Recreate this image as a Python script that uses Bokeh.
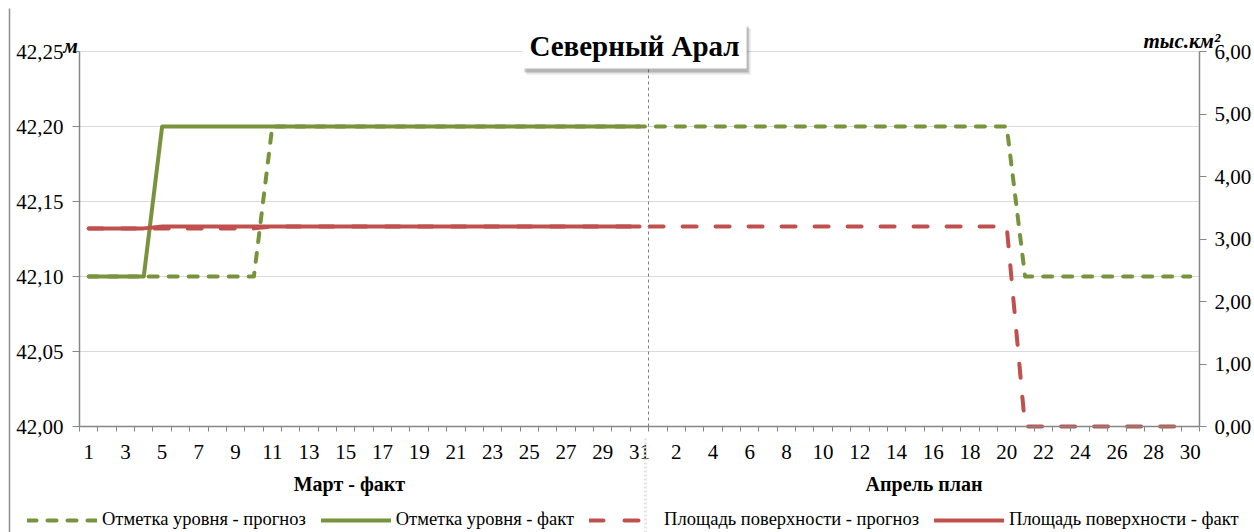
from bokeh.plotting import figure
from bokeh.models import (Range1d, LinearAxis, FixedTicker, Label, Legend, LegendItem, Grid)
from bokeh.embed import file_html
from bokeh.resources import INLINE

# ---------------- data ----------------
march_days = [1, 2, 3, 4, 5, 6, 7, 8, 9, 10, 11, 12, 13, 14, 15, 16, 17, 18, 19, 20,
              21, 22, 23, 24, 25, 26, 27, 28, 29, 30, 31]
april_days = [1, 2, 3, 4, 5, 6, 7, 8, 9, 10, 11, 12, 13, 14, 15, 16, 17, 18, 19, 20,
              21, 22, 23, 24, 25, 26, 27, 28, 29, 30]
month_groups = ["Март - факт", "Апрель план"]
march_tick_days = [1, 3, 5, 7, 9, 11, 13, 15, 17, 19, 21, 23, 25, 27, 29, 31]
april_tick_days = [2, 4, 6, 8, 10, 12, 14, 16, 18, 20, 22, 24, 26, 28, 30]

# level (m), March + April
level_forecast = [42.10, 42.10, 42.10, 42.10, 42.10, 42.10, 42.10, 42.10, 42.10, 42.10,
                  42.20, 42.20, 42.20, 42.20, 42.20, 42.20, 42.20, 42.20, 42.20, 42.20,
                  42.20, 42.20, 42.20, 42.20, 42.20, 42.20, 42.20, 42.20, 42.20, 42.20, 42.20,
                  42.20, 42.20, 42.20, 42.20, 42.20, 42.20, 42.20, 42.20, 42.20, 42.20,
                  42.20, 42.20, 42.20, 42.20, 42.20, 42.20, 42.20, 42.20, 42.20, 42.20,
                  42.10, 42.10, 42.10, 42.10, 42.10, 42.10, 42.10, 42.10, 42.10, 42.10]
# level fact, March only
level_fact = [42.10, 42.10, 42.10, 42.10, 42.20, 42.20, 42.20, 42.20, 42.20, 42.20,
              42.20, 42.20, 42.20, 42.20, 42.20, 42.20, 42.20, 42.20, 42.20, 42.20,
              42.20, 42.20, 42.20, 42.20, 42.20, 42.20, 42.20, 42.20, 42.20, 42.20, 42.20]
# surface area (thousand km2), March + April
area_forecast = [3.17, 3.17, 3.17, 3.17, 3.17, 3.17, 3.17, 3.17, 3.17, 3.17,
                 3.20, 3.20, 3.20, 3.20, 3.20, 3.20, 3.20, 3.20, 3.20, 3.20,
                 3.20, 3.20, 3.20, 3.20, 3.20, 3.20, 3.20, 3.20, 3.20, 3.20, 3.20,
                 3.20, 3.20, 3.20, 3.20, 3.20, 3.20, 3.20, 3.20, 3.20, 3.20,
                 3.20, 3.20, 3.20, 3.20, 3.20, 3.20, 3.20, 3.20, 3.20, 3.20,
                 0.00, 0.00, 0.00, 0.00, 0.00, 0.00, 0.00, 0.00, 0.00, 0.00]
# area fact, March only
area_fact = [3.17, 3.17, 3.17, 3.17, 3.20, 3.20, 3.20, 3.20, 3.20, 3.20,
             3.20, 3.20, 3.20, 3.20, 3.20, 3.20, 3.20, 3.20, 3.20, 3.20,
             3.20, 3.20, 3.20, 3.20, 3.20, 3.20, 3.20, 3.20, 3.20, 3.20, 3.20]

left_ticks = [42.00, 42.05, 42.10, 42.15, 42.20, 42.25]
left_tick_labels = ["42,00", "42,05", "42,10", "42,15", "42,20", "42,25"]
right_ticks = [0, 1, 2, 3, 4, 5, 6]
right_tick_labels = ["0,00", "1,00", "2,00", "3,00", "4,00", "5,00", "6,00"]
series_names = ["Отметка уровня - прогноз", "Отметка уровня - факт",
                "Площадь поверхности - прогноз", "Площадь поверхности - факт"]
title_text = "Северный Арал"
left_unit = "м"
right_unit = "тыс.км²"

# ---------------- layout / style ----------------
W, H = 1254, 532
FL, FR, FT, FB = 79, 1199, 51, 426          # plot-area edges in pixels
GREEN = "#77933C"
RED = "#C0504D"
AXIS = "#868686"
GRID = "#D9D9D9"
FONT = "Liberation Serif, Times New Roman, serif"

n_march = len(march_days)
n_april = len(april_days)
n_all = n_march + n_april
x_all = [i + 0.5 for i in range(n_all)]
x_march = x_all[:n_march]

# the frame covers the whole canvas; ranges are extended so the data area sits at FL..FR, FT..FB
sx = (FR - FL) / n_all
ky = (left_ticks[-1] - left_ticks[0]) / (FB - FT)
kr = (right_ticks[-1] - right_ticks[0]) / (FB - FT)
x_range = Range1d(0 - FL / sx, n_all + (W - FR) / sx)
y_range = Range1d(left_ticks[0] - (H - FB) * ky, left_ticks[-1] + FT * ky)
area_range = Range1d(right_ticks[0] - (H - FB) * kr, right_ticks[-1] + FT * kr)


def ypix(py):
    """pixel row -> left-axis data value"""
    return left_ticks[0] + (FB - py) * ky


p = figure(width=W, height=H, output_backend="svg", toolbar_location=None,
           x_range=x_range, y_range=y_range, x_axis_type=None, y_axis_type=None,
           min_border=0, min_border_left=0, min_border_right=0,
           min_border_top=0, min_border_bottom=0)
p.extra_y_ranges = {"area": area_range}
p.outline_line_color = None
p.background_fill_color = "white"
p.border_fill_color = "white"

# horizontal grid lines
grid_ok = False
try:
    grid = Grid(dimension=1, ticker=FixedTicker(ticks=left_ticks),
                bounds=(left_ticks[0], left_ticks[-1]), cross_bounds=(0, n_all),
                grid_line_color=GRID, grid_line_width=1)
    p.add_layout(grid)
    grid_ok = True
except Exception:
    grid_ok = False
if not grid_ok:
    gax = LinearAxis(fixed_location=n_all, ticker=FixedTicker(ticks=left_ticks[1:], minor_ticks=[]),
                     bounds=(left_ticks[0], left_ticks[-1]), axis_line_color=None,
                     major_tick_line_color=GRID, major_tick_in=FR - FL, major_tick_out=0,
                     minor_tick_line_color=None, major_label_text_font_size="0px",
                     level="underlay")
    p.add_layout(gax, "right")

# x axis (days)
major_x = [march_days.index(d) + 0.5 for d in march_tick_days] + \
          [n_march + april_days.index(d) + 0.5 for d in april_tick_days]
major_x_labels = [str(d) for d in march_tick_days] + [str(d) for d in april_tick_days]
xa = LinearAxis(fixed_location=left_ticks[0], bounds=(0, n_all),
                ticker=FixedTicker(ticks=major_x, minor_ticks=list(range(n_all + 1))),
                major_label_overrides={t: l for t, l in zip(major_x, major_x_labels)},
                axis_line_color=AXIS, axis_line_width=1.5,
                major_tick_line_color=None, major_tick_out=0, major_tick_in=0,
                minor_tick_line_color=AXIS, minor_tick_out=5, minor_tick_in=0,
                major_label_standoff=13, major_label_text_font=FONT,
                major_label_text_font_size="21px", major_label_text_color="black")
p.add_layout(xa, "below")

# x axis (month groups)
group_x = [n_march / 2 - 0.8, n_march + n_april / 2]
ga = LinearAxis(fixed_location=ypix(462), bounds=(0, n_all),
                ticker=FixedTicker(ticks=group_x, minor_ticks=[]),
                major_label_overrides={t: l for t, l in zip(group_x, month_groups)},
                axis_line_color=None, major_tick_line_color=None, minor_tick_line_color=None,
                major_tick_out=0, major_tick_in=0, major_label_standoff=10,
                major_label_text_font=FONT, major_label_text_font_size="20px",
                major_label_text_font_style="bold", major_label_text_color="black")
p.add_layout(ga, "below")

# left axis
ya = LinearAxis(fixed_location=0, bounds=(left_ticks[0], left_ticks[-1]),
                ticker=FixedTicker(ticks=left_ticks, minor_ticks=[]),
                major_label_overrides={t: l for t, l in zip(left_ticks, left_tick_labels)},
                axis_line_color=AXIS, axis_line_width=1.5,
                major_tick_line_color=AXIS, major_tick_out=7, major_tick_in=0,
                minor_tick_line_color=None, major_label_standoff=9,
                major_label_text_font=FONT, major_label_text_font_size="21px",
                major_label_text_color="black")
p.add_layout(ya, "left")

# right axis
ra = LinearAxis(y_range_name="area", fixed_location=n_all,
                bounds=(right_ticks[0], right_ticks[-1]),
                ticker=FixedTicker(ticks=right_ticks, minor_ticks=[]),
                major_label_overrides={t: l for t, l in zip(right_ticks, right_tick_labels)},
                axis_line_color=AXIS, axis_line_width=1.5,
                major_tick_line_color=AXIS, major_tick_out=7, major_tick_in=0,
                minor_tick_line_color=None, major_label_standoff=8,
                major_label_text_font=FONT, major_label_text_font_size="21px",
                major_label_text_color="black")
p.add_layout(ra, "right")

# month divider (dashed) and category-group separator below the axis
div_axis = LinearAxis(fixed_location=n_march, bounds=(left_ticks[0], left_ticks[-1]),
                      ticker=FixedTicker(ticks=[], minor_ticks=[]),
                      axis_line_color="#7F7F7F", axis_line_width=1, axis_line_dash="3 3",
                      major_tick_line_color=None, minor_tick_line_color=None)
p.add_layout(div_axis, "left")
sep_axis = LinearAxis(fixed_location=n_march - 0.2, bounds=(ypix(H), ypix(438)),
                      ticker=FixedTicker(ticks=[], minor_ticks=[]),
                      axis_line_color="#E6E6E6", axis_line_width=3, axis_line_dash="2 2",
                      major_tick_line_color=None, minor_tick_line_color=None)
p.add_layout(sep_axis, "left")
# outer chart border on the left
brd_axis = LinearAxis(fixed_location=(9 - FL) / sx, bounds=(ypix(H), ypix(8)),
                      ticker=FixedTicker(ticks=[], minor_ticks=[]),
                      axis_line_color="#8C8C8C", axis_line_width=1.5,
                      major_tick_line_color=None, minor_tick_line_color=None)
p.add_layout(brd_axis, "left")

# series
r_lf = p.line(x_all, level_forecast, line_color=GREEN, line_width=4, line_dash="9 11",
              line_cap="round", line_join="round")
r_la = p.line(x_march, level_fact, line_color=GREEN, line_width=4,
              line_cap="round", line_join="round")
r_af = p.line(x_all, area_forecast, y_range_name="area", line_color=RED, line_width=4,
              line_dash="14 19", line_cap="round", line_join="round")
r_aa = p.line(x_march, area_fact, y_range_name="area", line_color=RED, line_width=4,
              line_cap="round", line_join="round")
# legend key for the red dashed series (two dashes, as in the original); draws nothing in the plot
nan = float("nan")
r_af_key = p.line([nan], [nan], line_color=RED, line_width=4, line_dash="14 21 14 40",
                  line_cap="round", line_join="round")

legend = Legend(items=[LegendItem(label=series_names[0], renderers=[r_lf]),
                       LegendItem(label=series_names[1], renderers=[r_la]),
                       LegendItem(label=series_names[2], renderers=[r_af_key]),
                       LegendItem(label=series_names[3], renderers=[r_aa])],
                orientation="horizontal", location=(27, 2),
                glyph_width=70, glyph_height=20, label_height=20, label_standoff=5,
                spacing=15, padding=0, margin=0,
                background_fill_alpha=0, border_line_color=None,
                label_text_font=FONT, label_text_font_size="18.5px",
                label_text_color="black")
p.add_layout(legend, "center")

# title box with shadow (screen units; frame == canvas, origin bottom-left)
TX, TY = 634, H - 45
blank = "\u00a0" * 29
for dx, dy, alpha in [(4, -6, 0.15), (2, -4, 0.28)]:
    p.add_layout(Label(x=TX + dx, y=TY + dy, x_units="screen", y_units="screen",
                       text=blank, text_align="center", text_baseline="middle",
                       text_font=FONT, text_font_size="29px", text_font_style="bold",
                       background_fill_color="#404040", background_fill_alpha=alpha,
                       padding=7))
p.add_layout(Label(x=TX, y=TY, x_units="screen", y_units="screen",
                   text=blank, text_align="center", text_baseline="middle",
                   text_font=FONT, text_font_size="29px", text_font_style="bold",
                   background_fill_color="white", background_fill_alpha=1.0, padding=7))
p.add_layout(Label(x=TX, y=TY, x_units="screen", y_units="screen",
                   text=title_text, text_align="center", text_baseline="middle",
                   text_font=FONT, text_font_size="29px", text_font_style="bold",
                   text_color="black"))

# units
p.add_layout(Label(x=63, y=H - 45, x_units="screen", y_units="screen", text=left_unit,
                   text_align="left", text_baseline="alphabetic", text_font=FONT,
                   text_font_size="21px", text_font_style="bold italic", text_color="black"))
p.add_layout(Label(x=1143, y=H - 40, x_units="screen", y_units="screen", text=right_unit,
                   text_align="left", text_baseline="alphabetic", text_font=FONT,
                   text_font_size="21px", text_font_style="bold italic", text_color="black"))

open("out.html", "w").write(file_html(p, INLINE))
